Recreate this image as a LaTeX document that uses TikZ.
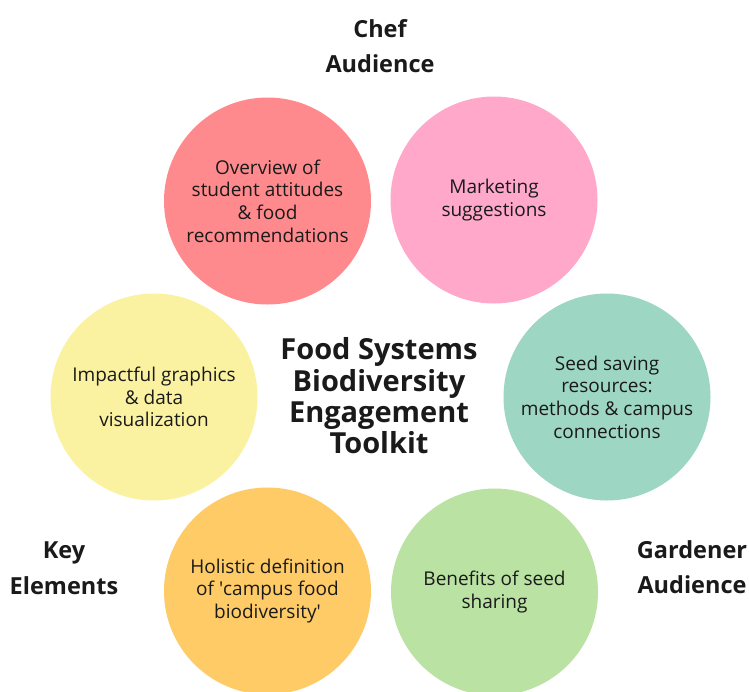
\documentclass[tikz,border=0pt]{standalone}
\usepackage{fontspec}
\setmainfont{Open Sans}
\definecolor{cred}{RGB}{255,138,142}
\definecolor{cpink}{RGB}{255,168,202}
\definecolor{cyellow}{RGB}{250,242,160}
\definecolor{cteal}{RGB}{158,214,196}
\definecolor{corange}{RGB}{254,203,103}
\definecolor{cgreen}{RGB}{185,226,163}
\definecolor{ink}{RGB}{26,26,26}
\begin{document}
\begin{tikzpicture}[x=1pt,y=-1pt,
  bubble/.style={circle,minimum size=207pt,inner sep=0pt,align=center,text=ink,
    font=\fontsize{19}{22.7}\selectfont},
  tag/.style={align=center,text=ink,font=\bfseries\fontsize{23.5}{35.5}\selectfont},
  title/.style={align=center,text=ink,font=\bfseries\fontsize{29}{31.3}\selectfont}]
\useasboundingbox (0,0) rectangle (749,691);
\fill[white] (0,0) rectangle (749,691);
\node[bubble,fill=cred]    (red)    at (267.5,201) {Overview of\\student attitudes\\\& food\\recommendations};
\node[bubble,fill=cpink]   (pink)   at (494,200)   {Marketing\\suggestions};
\node[bubble,fill=cyellow] (yellow) at (154,397)   {Impactful graphics\\\& data\\visualization};
\node[bubble,fill=cteal]   (teal)   at (607,397)   {Seed saving\\resources:\\methods \& campus\\connections};
\node[bubble,fill=corange] (orange) at (267.5,591) {Holistic definition\\of \textquotesingle campus food\\biodiversity\textquotesingle};
\node[bubble,fill=cgreen]  (green)  at (494.5,592) {Benefits of seed\\sharing};
\node[title] (main) at (379,396) {Food Systems\\Biodiversity\\Engagement\\Toolkit};
\node[tag] (chef) at (380,46) {Chef\\Audience};
\node[tag] (key) at (64,568) {Key\\Elements};
\node[tag] (gard) at (692,567) {Gardener\\Audience};
\end{tikzpicture}
\end{document}
